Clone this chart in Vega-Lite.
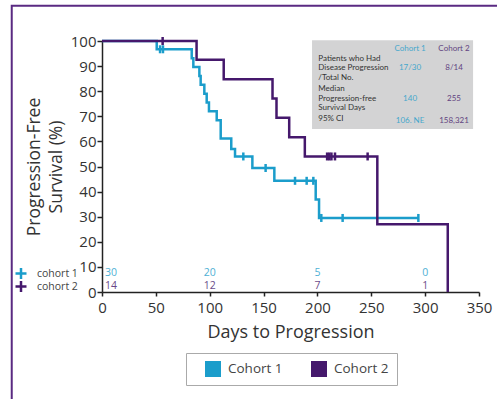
{
  "$schema": "https://vega.github.io/schema/vega-lite/v6.json",
  "width": 377,
  "height": 251,
  "autosize": {"type": "none"},
  "padding": {"left": 102, "top": 41, "right": 18, "bottom": 107},
  "background": "white",
  "config": {
    "view": {"stroke": null},
    "font": "Open Sans",
    "axis": {
      "grid": false,
      "domainColor": "#222",
      "tickColor": "#222",
      "domainWidth": 1.5,
      "tickWidth": 1.5,
      "labelColor": "#333",
      "titleColor": "#333",
      "titleFontWeight": "normal",
      "labelFont": "Open Sans",
      "titleFont": "Open Sans"
    },
    "legend": {"labelFont": "Open Sans"}
  },
  "datasets": {
    "frame": [{"t": -83.8, "t2": 440, "s": 114.0, "s2": -60}],
    "box": [{"t": 195, "t2": 344.5, "s": 100.3, "s2": 64.9}],
    "tableLabels": [
      {"text": "Patients who Had", "t": 200.8, "s": 93.0},
      {"text": "Disease Progression", "t": 200.8, "s": 89.2},
      {"text": "/Total No.", "t": 200.8, "s": 85.4},
      {"text": "Median", "t": 200.8, "s": 80.8},
      {"text": "Progression-free", "t": 200.8, "s": 77.0},
      {"text": "Survival Days", "t": 200.8, "s": 73.4},
      {"text": "95% CI", "t": 200.8, "s": 68.8}
    ],
    "tableValues": [
      {"text": "Cohort 1", "cohort": "Cohort 1", "t": 286, "s": 96.7},
      {"text": "Cohort 2", "cohort": "Cohort 2", "t": 326.8, "s": 96.7},
      {"text": "17/30", "cohort": "Cohort 1", "t": 286, "s": 89.2},
      {"text": "8/14", "cohort": "Cohort 2", "t": 326.8, "s": 89.2},
      {"text": "140", "cohort": "Cohort 1", "t": 286, "s": 77.0},
      {"text": "255", "cohort": "Cohort 2", "t": 326.8, "s": 77.0},
      {"text": "106. NE", "cohort": "Cohort 1", "t": 286, "s": 68.3},
      {"text": "158,321", "cohort": "Cohort 2", "t": 326.8, "s": 68.3}
    ],
    "curves": [
      {"cohort": "Cohort 1", "t": 0, "s": 100},
      {"cohort": "Cohort 1", "t": 50.8, "s": 96.7},
      {"cohort": "Cohort 1", "t": 83.3, "s": 93.1},
      {"cohort": "Cohort 1", "t": 84.8, "s": 89.6},
      {"cohort": "Cohort 1", "t": 90.4, "s": 86.1},
      {"cohort": "Cohort 1", "t": 91.6, "s": 82.6},
      {"cohort": "Cohort 1", "t": 95.0, "s": 79.0},
      {"cohort": "Cohort 1", "t": 97.2, "s": 75.5},
      {"cohort": "Cohort 1", "t": 99.3, "s": 72.0},
      {"cohort": "Cohort 1", "t": 106.5, "s": 68.4},
      {"cohort": "Cohort 1", "t": 110.2, "s": 61.2},
      {"cohort": "Cohort 1", "t": 120.0, "s": 57.0},
      {"cohort": "Cohort 1", "t": 123.5, "s": 54.0},
      {"cohort": "Cohort 1", "t": 139.6, "s": 49.4},
      {"cohort": "Cohort 1", "t": 160.0, "s": 44.3},
      {"cohort": "Cohort 1", "t": 198.4, "s": 36.9},
      {"cohort": "Cohort 1", "t": 201.5, "s": 29.5},
      {"cohort": "Cohort 1", "t": 293.7, "s": 29.5},
      {"cohort": "Cohort 2", "t": 0, "s": 100},
      {"cohort": "Cohort 2", "t": 87.8, "s": 92.5},
      {"cohort": "Cohort 2", "t": 113.0, "s": 84.8},
      {"cohort": "Cohort 2", "t": 158.3, "s": 77.1},
      {"cohort": "Cohort 2", "t": 162.0, "s": 69.4},
      {"cohort": "Cohort 2", "t": 173.8, "s": 61.7},
      {"cohort": "Cohort 2", "t": 188.3, "s": 54.0},
      {"cohort": "Cohort 2", "t": 255.6, "s": 27.0},
      {"cohort": "Cohort 2", "t": 321.0, "s": 0}
    ],
    "censors": [
      {"group": "cohort 1", "t": 53.9, "s": 96.7},
      {"group": "cohort 1", "t": 56.6, "s": 96.7},
      {"group": "cohort 1", "t": 131.2, "s": 54.0},
      {"group": "cohort 1", "t": 151.9, "s": 49.4},
      {"group": "cohort 1", "t": 179.2, "s": 44.3},
      {"group": "cohort 1", "t": 190.0, "s": 44.3},
      {"group": "cohort 1", "t": 196.2, "s": 44.3},
      {"group": "cohort 1", "t": 203.6, "s": 29.5},
      {"group": "cohort 1", "t": 223.4, "s": 29.5},
      {"group": "cohort 1", "t": 293.7, "s": 29.5},
      {"group": "cohort 2", "t": 56.3, "s": 100},
      {"group": "cohort 2", "t": 209.0, "s": 54.0},
      {"group": "cohort 2", "t": 211.0, "s": 54.0},
      {"group": "cohort 2", "t": 213.0, "s": 54.0},
      {"group": "cohort 2", "t": 216.3, "s": 54.0},
      {"group": "cohort 2", "t": 246.6, "s": 54.0}
    ],
    "atRisk": [
      {"cohort": "Cohort 1", "t": 0, "s": 7.6, "n": "30"},
      {"cohort": "Cohort 1", "t": 100, "s": 7.6, "n": "20"},
      {"cohort": "Cohort 1", "t": 200, "s": 7.6, "n": "5"},
      {"cohort": "Cohort 1", "t": 300, "s": 7.6, "n": "0"},
      {"cohort": "Cohort 2", "t": 0, "s": 2.4, "n": "14"},
      {"cohort": "Cohort 2", "t": 100, "s": 2.4, "n": "12"},
      {"cohort": "Cohort 2", "t": 200, "s": 2.4, "n": "7"},
      {"cohort": "Cohort 2", "t": 300, "s": 2.4, "n": "1"}
    ]
  },
  "encoding": {
    "x": {
      "field": "t",
      "type": "quantitative",
      "scale": {"domain": [0, 350], "nice": false, "zero": false},
      "axis": {
        "values": [0, 50, 100, 150, 200, 250, 300, 350],
        "title": "Days to Progression",
        "titleFontSize": 18,
        "titlePadding": 8,
        "labelFontSize": 15,
        "labelPadding": 4,
        "tickSize": 4,
        "labelFlush": false
      }
    },
    "y": {
      "field": "s",
      "type": "quantitative",
      "scale": {"domain": [0, 100], "nice": false, "zero": false},
      "axis": {
        "values": [0, 10, 20, 30, 40, 50, 60, 70, 80, 90, 100],
        "title": ["Progression-Free", "Survival (%)"],
        "titleFontSize": 17.5,
        "titleLineHeight": 22,
        "titlePadding": 5,
        "labelFontSize": 15,
        "labelPadding": 1,
        "tickSize": 5,
        "labelFlush": false
      }
    }
  },
  "layer": [
    {
      "data": {"name": "frame"},
      "mark": {"type": "rect", "fill": "white", "fillOpacity": 0, "stroke": "#5a2a82", "strokeWidth": 2},
      "encoding": {"x2": {"field": "t2"}, "y2": {"field": "s2"}}
    },
    {
      "data": {"name": "box"},
      "mark": {"type": "rect", "fill": "#d3d3d4"},
      "encoding": {"x2": {"field": "t2"}, "y2": {"field": "s2"}}
    },
    {
      "data": {"name": "tableLabels"},
      "mark": {"type": "text", "align": "left", "baseline": "middle", "fontSize": 8, "font": "Lato", "fill": "#333"},
      "encoding": {"text": {"field": "text"}}
    },
    {
      "data": {"name": "tableValues"},
      "mark": {"type": "text", "align": "center", "baseline": "middle", "fontSize": 8, "font": "Lato", "opacity": 0.8},
      "encoding": {
        "text": {"field": "text"},
        "color": {"field": "cohort", "type": "nominal", "scale": {"domain": ["Cohort 1", "Cohort 2"], "range": ["#1b9dcb", "#45186c"]}}
      }
    },
    {
      "data": {"name": "curves"},
      "mark": {"type": "line", "interpolate": "step-after", "strokeWidth": 2.5},
      "encoding": {
        "color": {
          "field": "cohort",
          "type": "nominal",
          "scale": {"domain": ["Cohort 1", "Cohort 2"], "range": ["#1b9dcb", "#45186c"]},
          "legend": {
            "orient": "none",
            "legendX": 84,
            "legendY": 312,
            "direction": "horizontal",
            "title": null,
            "symbolType": "square",
            "symbolSize": 256,
            "symbolStrokeWidth": 0,
            "symbolOffset": 11,
            "labelFontSize": 13.5,
            "labelColor": "#444",
            "labelOffset": 7,
            "columnPadding": 17,
            "padding": 8,
            "strokeColor": "#aaaaaa",
            "encode": {"symbols": {"update": {"fill": {"scale": "color", "field": "value"}, "opacity": {"value": 1}}}}
          }
        }
      }
    },
    {
      "data": {"name": "censors"},
      "mark": {"type": "point", "shape": "M0,-1L0,1", "size": 64, "strokeWidth": 2.5, "filled": false, "opacity": 1},
      "encoding": {
        "stroke": {
          "field": "group",
          "type": "nominal",
          "scale": {"domain": ["cohort 1", "cohort 2"], "range": ["#1b9dcb", "#45186c"]},
          "legend": {
            "orient": "none",
            "legendX": -88,
            "legendY": 227,
            "direction": "vertical",
            "title": null,
            "symbolType": "M-1,0L1,0M0,-1L0,1",
            "symbolSize": 121,
            "symbolStrokeWidth": 2.5,
            "labelFontSize": 10.5,
            "labelColor": "#444",
            "labelOffset": 9,
            "rowPadding": 2,
            "clipHeight": 11,
            "padding": 0
          }
        }
      }
    },
    {
      "data": {"name": "atRisk"},
      "transform": [{"filter": "datum.t == 0"}],
      "mark": {"type": "text", "align": "left", "baseline": "middle", "fontSize": 10.5, "dx": 3, "opacity": 0.8},
      "encoding": {"text": {"field": "n"}, "color": {"field": "cohort", "type": "nominal"}}
    },
    {
      "data": {"name": "atRisk"},
      "transform": [{"filter": "datum.t > 0"}],
      "mark": {"type": "text", "align": "center", "baseline": "middle", "fontSize": 10.5, "opacity": 0.8},
      "encoding": {"text": {"field": "n"}, "color": {"field": "cohort", "type": "nominal"}}
    }
  ]
}
